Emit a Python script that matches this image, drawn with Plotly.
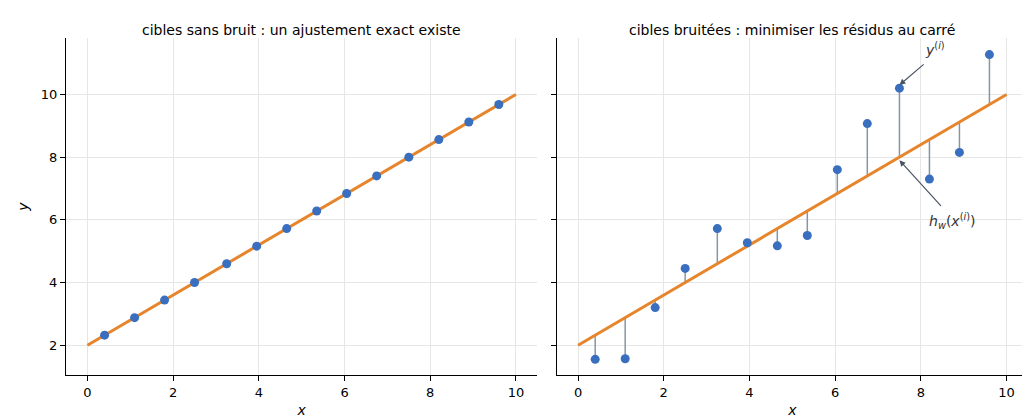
import plotly.graph_objects as go
from plotly.subplots import make_subplots

x_pts = [0.4, 1.1, 1.8, 2.5, 3.25, 3.95, 4.65, 5.35, 6.05, 6.75, 7.5, 8.2, 8.9, 9.6]
y_noisy = [1.55, 1.57, 3.2, 4.45, 5.72, 5.27, 5.17, 5.5, 7.6, 9.07, 10.2, 7.3, 8.15, 11.27]
w0, w1 = 2.0, 0.8
line_x = [0, 10]
line_y = [w0 + w1 * v for v in line_x]
y_clean = [w0 + w1 * v for v in x_pts]
titles = ["cibles sans bruit : un ajustement exact existe",
          "cibles bruitées : minimiser les résidus au carré"]

ORANGE = "#e6852b"
BLUE = "#3a6fbf"
GREY = "#8796a6"

fig = make_subplots(rows=1, cols=2, shared_yaxes=True, horizontal_spacing=0.02,
                    subplot_titles=titles)

fig.add_trace(go.Scatter(x=line_x, y=line_y, mode="lines", line=dict(color=ORANGE, width=3)), 1, 1)
fig.add_trace(go.Scatter(x=x_pts, y=y_clean, mode="markers", marker=dict(color=BLUE, size=9)), 1, 1)

rx, ry = [], []
for xi, yi, yc in zip(x_pts, y_noisy, y_clean):
    rx += [xi, xi, None]
    ry += [yc, yi, None]
fig.add_trace(go.Scatter(x=rx, y=ry, mode="lines", line=dict(color=GREY, width=1.5)), 1, 2)
fig.add_trace(go.Scatter(x=line_x, y=line_y, mode="lines", line=dict(color=ORANGE, width=3)), 1, 2)
fig.add_trace(go.Scatter(x=x_pts, y=y_noisy, mode="markers", marker=dict(color=BLUE, size=9)), 1, 2)

k = 10
fig.add_annotation(x=x_pts[k], y=y_noisy[k] + 0.1, ax=8.1, ay=11.0, xref="x2", yref="y2",
                   axref="x2", ayref="y2", text="", showarrow=True, arrowhead=2,
                   arrowsize=1, arrowwidth=1.2, arrowcolor="#4a5563")
fig.add_annotation(x=8.05, y=11.45, xref="x2", yref="y2", text="<i>y</i><sup>(<i>i</i>)</sup>",
                   showarrow=False, xanchor="left", font=dict(size=14, color="#333"))
fig.add_annotation(x=x_pts[k], y=y_clean[k] - 0.1, ax=8.5, ay=6.4, xref="x2", yref="y2",
                   axref="x2", ayref="y2", text="", showarrow=True, arrowhead=2,
                   arrowsize=1, arrowwidth=1.2, arrowcolor="#4a5563")
fig.add_annotation(x=8.15, y=5.95, xref="x2", yref="y2",
                   text="<i>h<sub>w</sub></i>(<i>x</i><sup>(<i>i</i>)</sup>)",
                   showarrow=False, xanchor="left", font=dict(size=14, color="#333"))

ax_common = dict(range=[-0.5, 10.5], tickvals=[0, 2, 4, 6, 8, 10], showgrid=True,
                 gridcolor="#e6e6e6", zeroline=False, showline=True, linecolor="black",
                 ticks="outside", tickcolor="black", mirror=False, automargin=False,
                 title=dict(text="<i>x</i>", font=dict(size=14), standoff=6))
fig.update_xaxes(**ax_common)
fig.update_yaxes(range=[1.05, 11.8], tickvals=[2, 4, 6, 8, 10], showgrid=True,
                 gridcolor="#e6e6e6", zeroline=False, showline=True, linecolor="black",
                 ticks="outside", tickcolor="black", automargin=False)
fig.update_yaxes(title=dict(text="<i>y</i>", font=dict(size=14), standoff=8), row=1, col=1)
fig.update_yaxes(showticklabels=False, row=1, col=2)

for a in fig.layout.annotations[:2]:
    a.font = dict(size=14, color="black")
    a.yshift = -2

fig.update_layout(width=1030, height=420, template="plotly_white", showlegend=False,
                  plot_bgcolor="white", paper_bgcolor="white",
                  font=dict(family="DejaVu Sans", size=13, color="black"),
                  margin=dict(l=58, r=10, t=30, b=53, autoexpand=False))
fig.write_html("out.html")
